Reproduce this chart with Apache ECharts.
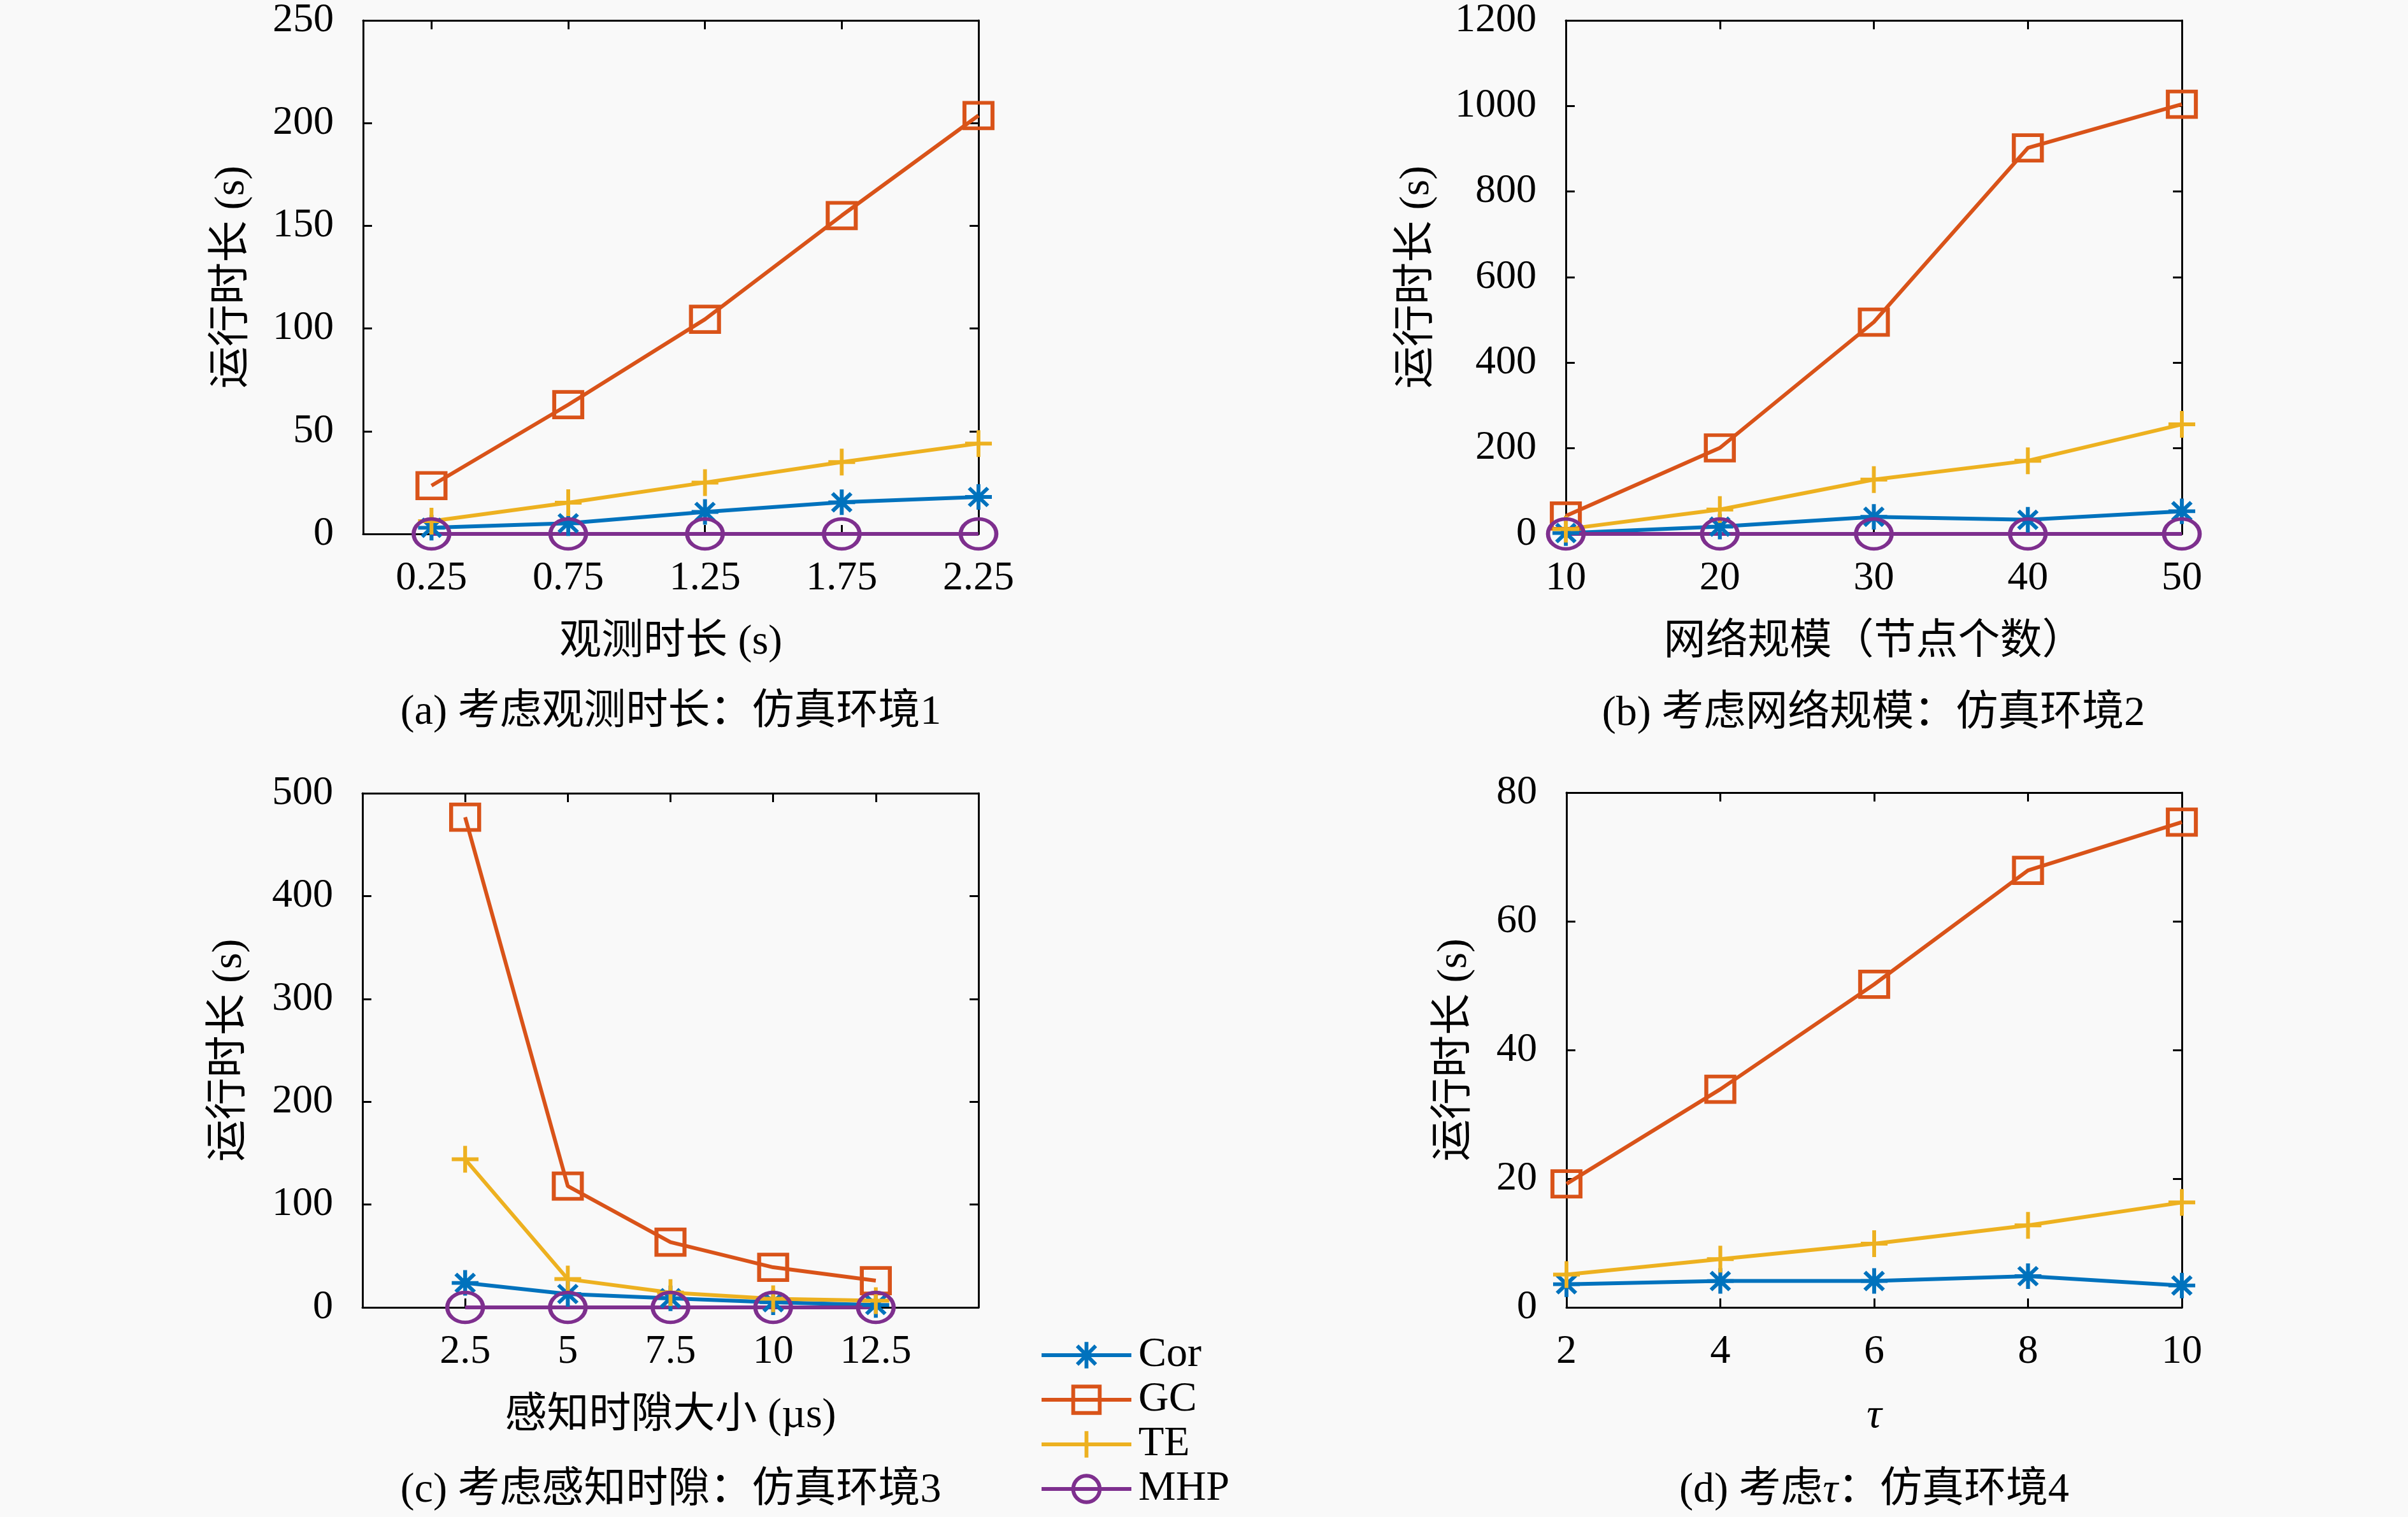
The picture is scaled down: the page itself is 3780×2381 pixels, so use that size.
<!DOCTYPE html>
<html>
<head>
<meta charset="utf-8">
<title>运行时长对比</title>
<script src="https://cdn.jsdelivr.net/npm/echarts@6.0.0/dist/echarts.min.js"></script>
<style>
  html, body { margin: 0; padding: 0; background: #f9f9f9; }
  #chart { width: 3780px; height: 2381px; }
</style>
</head>
<body>
<div id="chart"></div>
<script>
// ---- 数据 ----
var names = ['Cor', 'GC', 'TE', 'MHP'];

// (a) 观测时长
var xA   = [0.25, 0.75, 1.25, 1.75, 2.25];
var corA = [3, 5.2, 10.7, 15.4, 18];
var gcA  = [23.5, 62.9, 104.5, 155, 203.7];
var teA  = [6.2, 15.2, 25, 35, 44];
var mhpA = [0, 0, 0, 0, 0];

// (b) 网络规模
var xB   = [10, 20, 30, 40, 50];
var corB = [2, 17, 40, 33, 53];
var gcB  = [42, 201, 495, 902, 1004];
var teB  = [11, 57, 127, 171, 256];
var mhpB = [0, 0, 0, 0, 0];

// (c) 感知时隙
var xC   = [2.5, 5, 7.5, 10, 12.5];
var corC = [23.8, 13, 8.9, 5, 2.3];
var gcC  = [476.7, 117.9, 63.4, 39, 26];
var teC  = [144, 27.5, 14.4, 8.4, 6.5];
var mhpC = [0, 0, 0, 0, 0];

// (d) tau
var xD   = [2, 4, 6, 8, 10];
var corD = [3.6, 4.1, 4.1, 4.85, 3.4];
var gcD  = [19.2, 33.9, 50.2, 67.9, 75.4];
var teD  = [5.1, 7.5, 9.9, 12.75, 16.3];

// ---- 样式 ----
var FONT = "'Liberation Serif', 'Noto Sans CJK SC', serif";
var TICK_FS = 64, NAME_FS = 66;
var colors = { Cor: '#0072BD', GC: '#D95319', TE: '#EDB120', MHP: '#7E2F8E' };
var symbols = {
    Cor: 'path://M0,-1L0,1M-1,0L1,0M-0.7,-0.7L0.7,0.7M-0.7,0.7L0.7,-0.7',
    GC: 'rect',
    TE: 'path://M0,-1L0,1M-1,0L1,0',
    MHP: 'circle'
};
var sizes = { Cor: [42, 40], GC: [44, 40], TE: [42, 42], MHP: [56, 47] };

var myChart = echarts.init(document.getElementById('chart'));

var grids = [
    { left: 570, top: 30, width: 966, height: 808 },
    { left: 2458, top: 30, width: 967, height: 808 },
    { left: 569, top: 1245, width: 967, height: 807 },
    { left: 2459, top: 1244, width: 966, height: 808 }
];

var xAxes = [], yAxes = [], series = [];

function addAxes(gi, xr, yr, xName, yName, yGap, xTicks, italic) {
    var lineSt = { show: true, onZero: false, lineStyle: { color: '#000', width: 3 } };
    var tick = { show: true, inside: true, length: 14, lineStyle: { color: '#000', width: 3 } };
    var label = { color: '#000', fontSize: TICK_FS, fontFamily: FONT, margin: 38,
                  formatter: function (v) { return String(v); } };
    var xb = {
        type: 'value', gridIndex: gi, position: 'bottom', min: xr[0], max: xr[1],
        axisLine: lineSt, axisTick: tick, splitLine: { show: false }, axisLabel: label,
        name: xName, nameLocation: 'middle', nameGap: 138,
        nameTextStyle: { color: '#000', fontSize: NAME_FS, fontFamily: FONT, fontStyle: italic ? 'italic' : 'normal' }
    };
    var xt = {
        type: 'value', gridIndex: gi, position: 'top', min: xr[0], max: xr[1],
        axisLine: lineSt, axisTick: tick, splitLine: { show: false }, axisLabel: { show: false }
    };
    if (xTicks) {
        xb.axisTick = Object.assign({}, tick, { customValues: xTicks });
        xb.axisLabel = Object.assign({}, label, { customValues: xTicks });
        xt.axisTick = Object.assign({}, tick, { customValues: xTicks });
    } else {
        xb.interval = xr[2];
        xt.interval = xr[2];
    }
    xAxes.push(xb, xt);
    yAxes.push({
        type: 'value', gridIndex: gi, position: 'left', min: yr[0], max: yr[1], interval: yr[2],
        axisLine: lineSt, axisTick: tick, splitLine: { show: false },
        axisLabel: Object.assign({}, label, { margin: 46 }),
        name: yName, nameLocation: 'middle', nameGap: yGap,
        nameTextStyle: { color: '#000', fontSize: NAME_FS, fontFamily: FONT }
    }, {
        type: 'value', gridIndex: gi, position: 'right', min: yr[0], max: yr[1], interval: yr[2],
        axisLine: lineSt, axisTick: tick, splitLine: { show: false }, axisLabel: { show: false }
    });
}

function addLine(name, gi, xs, ys) {
    var c = colors[name];
    series.push({
        name: name, type: 'line', xAxisIndex: 2 * gi, yAxisIndex: 2 * gi,
        data: xs.map(function (x, i) { return [x, ys[i]]; }),
        color: c,
        symbol: symbols[name], symbolSize: sizes[name], showAllSymbol: true, clip: false,
        lineStyle: { color: c, width: 6 },
        itemStyle: { color: 'none', borderColor: c, borderWidth: 6 },
        emphasis: { disabled: true }
    });
}

addAxes(0, [0, 2.25], [0, 250, 50], '观测时长 (s)', '运行时长 (s)', 172, [0.25, 0.75, 1.25, 1.75, 2.25]);
addAxes(1, [10, 50, 10], [0, 1200, 200], '网络规模（节点个数）', '运行时长 (s)', 200);
addAxes(2, [0, 15], [0, 500, 100], '感知时隙大小 (µs)', '运行时长 (s)', 175, [2.5, 5, 7.5, 10, 12.5]);
addAxes(3, [2, 10, 2], [0, 80, 20], 'τ', '运行时长 (s)', 142, null, true);

addLine('Cor', 0, xA, corA); addLine('GC', 0, xA, gcA); addLine('TE', 0, xA, teA); addLine('MHP', 0, xA, mhpA);
addLine('Cor', 1, xB, corB); addLine('GC', 1, xB, gcB); addLine('TE', 1, xB, teB); addLine('MHP', 1, xB, mhpB);
addLine('Cor', 2, xC, corC); addLine('GC', 2, xC, gcC); addLine('TE', 2, xC, teC); addLine('MHP', 2, xC, mhpC);
addLine('Cor', 3, xD, corD); addLine('GC', 3, xD, gcD); addLine('TE', 3, xD, teD);

function caption(x, y, text) {
    return {
        type: 'text', x: x, y: y, silent: true,
        style: {
            text: text, align: 'center', verticalAlign: 'middle', fill: '#000',
            fontSize: NAME_FS, fontFamily: FONT,
            rich: { t: { fontSize: NAME_FS, fontFamily: FONT, fontStyle: 'italic', fill: '#000' } }
        }
    };
}

myChart.setOption({
    backgroundColor: '#f9f9f9',
    animation: false,
    grid: grids,
    xAxis: xAxes,
    yAxis: yAxes,
    legend: {
        orient: 'vertical', left: 1632, top: 2094, padding: 0,
        itemWidth: 141, itemHeight: 52, itemGap: 4,
        selectedMode: false,
        lineStyle: { width: 6 },
        itemStyle: { borderWidth: 6 },
        textStyle: { color: '#000', fontSize: 66, fontFamily: FONT, padding: [0, 0, 0, 6] },
        data: names
    },
    graphic: [
        caption(1053, 1119, '(a) 考虑观测时长：仿真环境1'),
        caption(2941, 1121, '(b) 考虑网络规模：仿真环境2'),
        caption(1053, 2340, '(c) 考虑感知时隙：仿真环境3'),
        caption(2942, 2340, '(d) 考虑{t|τ}：仿真环境4')
    ],
    series: series
});
</script>
</body>
</html>
